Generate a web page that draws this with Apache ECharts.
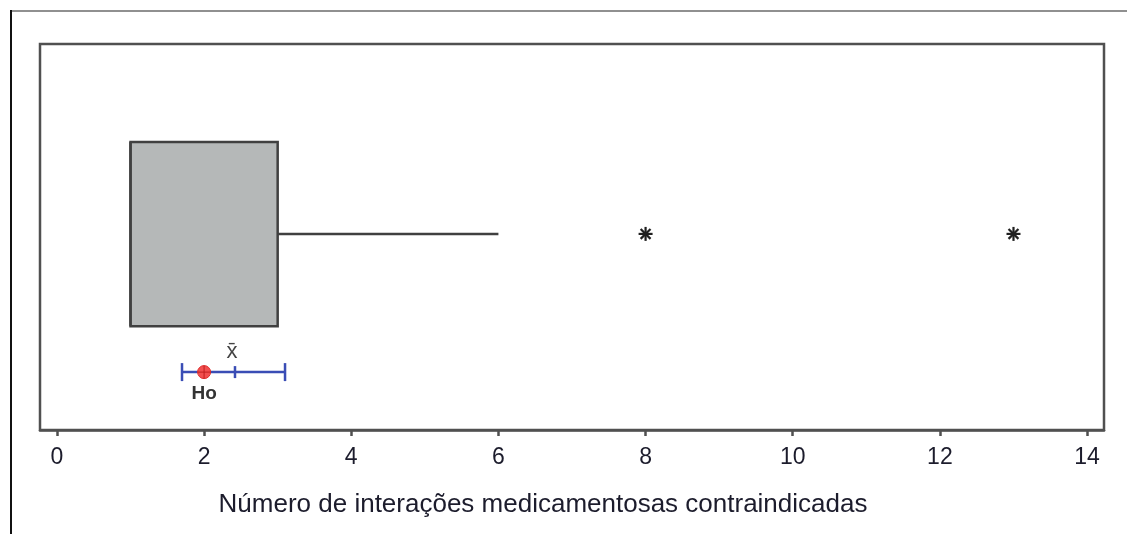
<!DOCTYPE html>
<html>
<head>
<meta charset="utf-8">
<script src="https://cdn.jsdelivr.net/npm/echarts@6/dist/echarts.min.js"></script>
<style>
html,body{margin:0;padding:0;background:#fff;}
#chart{width:1127px;height:534px;}
</style>
</head>
<body>
<div id="chart"></div>
<script>
// ---- data ----
const xTicks = [0, 2, 4, 6, 8, 10, 12, 14];
const boxStats = [1, 1, 1, 3, 6];        // whiskerLow, Q1, median, Q3, whiskerHigh
const outliers = [8, 13];
const meanCI = [1.70, 2.42, 3.10];       // lower, mean, upper
const h0 = [2];
const axisTitle = 'Número de interações medicamentosas contraindicadas';

// ---- layout constants (y in axis units 0..1) ----
const BOX_TOP = 0.746, BOX_BOT = 0.269, MID = 0.508, CI_Y = 0.150;
const FONT = '"Liberation Sans", Arial, sans-serif';
const DARK = '#404040';

const chart = echarts.init(document.getElementById('chart'), null, {renderer: 'canvas'});

function renderBox(params, api) {
  const lo = api.value(0), q1 = api.value(1), med = api.value(2), q3 = api.value(3), hi = api.value(4);
  const tl = api.coord([q1, BOX_TOP]);
  const br = api.coord([q3, BOX_BOT]);
  const m = api.coord([q3, MID]);
  const mh = api.coord([hi, MID]);
  const ml = api.coord([lo, MID]);
  const q1m = api.coord([q1, MID]);
  const mt = api.coord([med, BOX_TOP]);
  const mb = api.coord([med, BOX_BOT]);
  return {
    type: 'group',
    children: [
      {type: 'line', shape: {x1: ml[0], y1: ml[1], x2: q1m[0], y2: q1m[1]}, style: {stroke: DARK, lineWidth: 2}},
      {type: 'line', shape: {x1: m[0], y1: m[1], x2: mh[0], y2: mh[1]}, style: {stroke: DARK, lineWidth: 2.5}},
      {type: 'rect', shape: {x: tl[0], y: tl[1], width: br[0] - tl[0], height: br[1] - tl[1]},
        style: {fill: '#b5b8b8', stroke: DARK, lineWidth: 2.5}},
      {type: 'line', shape: {x1: mt[0], y1: mt[1], x2: mb[0], y2: mb[1]}, style: {stroke: DARK, lineWidth: 2.5}}
    ]
  };
}

function renderStar(params, api) {
  const c = api.coord([api.value(0), MID]);
  const r = 7;
  const children = [];
  for (let k = 0; k < 4; k++) {
    const a = k * Math.PI / 4;
    children.push({type: 'line', shape: {x1: c[0] - r * Math.cos(a), y1: c[1] - r * Math.sin(a), x2: c[0] + r * Math.cos(a), y2: c[1] + r * Math.sin(a)},
      style: {stroke: '#202020', lineWidth: 2.2}});
  }
  return {type: 'group', children};
}

function renderCI(params, api) {
  const lo = api.coord([api.value(0), CI_Y]);
  const mn = api.coord([api.value(1), CI_Y]);
  const hi = api.coord([api.value(2), CI_Y]);
  const blue = '#3a4db5';
  return {
    type: 'group',
    children: [
      {type: 'line', shape: {x1: lo[0], y1: lo[1], x2: hi[0], y2: hi[1]}, style: {stroke: blue, lineWidth: 2.5}},
      {type: 'line', shape: {x1: lo[0], y1: lo[1] - 9, x2: lo[0], y2: lo[1] + 9}, style: {stroke: blue, lineWidth: 2.5}},
      {type: 'line', shape: {x1: hi[0], y1: hi[1] - 9, x2: hi[0], y2: hi[1] + 9}, style: {stroke: blue, lineWidth: 2.5}},
      {type: 'line', shape: {x1: mn[0], y1: mn[1] - 6, x2: mn[0], y2: mn[1] + 6}, style: {stroke: blue, lineWidth: 2.5}},
      {type: 'text', x: mn[0] - 3, y: mn[1] - 20, style: {text: 'x\u0304', font: '22px ' + FONT, fill: '#444', align: 'center', verticalAlign: 'middle'}}
    ]
  };
}

function renderH0(params, api) {
  const c = api.coord([api.value(0), CI_Y]);
  const r = 6.5;
  return {
    type: 'group',
    children: [
      {type: 'circle', shape: {cx: c[0], cy: c[1], r: r}, style: {fill: '#f25050', stroke: '#e03030', lineWidth: 1}},
      {type: 'line', shape: {x1: c[0] - r, y1: c[1], x2: c[0] + r, y2: c[1]}, style: {stroke: '#c02020', lineWidth: 1}},
      {type: 'line', shape: {x1: c[0], y1: c[1] - r, x2: c[0], y2: c[1] + r}, style: {stroke: '#c02020', lineWidth: 1}},
      {type: 'text', x: c[0], y: c[1] + 22, style: {text: 'Ho', font: 'bold 19px ' + FONT, fill: '#333', align: 'center', verticalAlign: 'middle'}}
    ]
  };
}

chart.setOption({
  animation: false,
  backgroundColor: '#fff',
  graphic: [
    {type: 'line', shape: {x1: 10, y1: 11, x2: 1127, y2: 11}, style: {stroke: '#909090', lineWidth: 2}},
    {type: 'line', shape: {x1: 11, y1: 10, x2: 11, y2: 534}, style: {stroke: '#111', lineWidth: 2}}
  ],
  grid: {left: 40, right: 23, top: 44, bottom: 104, show: true, borderColor: '#505050', borderWidth: 2.5, backgroundColor: '#fff'},
  xAxis: {
    type: 'value', min: -0.23, max: 14.23,
    splitLine: {show: false},
    axisLine: {show: true, lineStyle: {color: '#505050', width: 2.5}},
    axisTick: {show: true, customValues: xTicks, length: 6, inside: false, lineStyle: {color: '#505050', width: 2.5}},
    axisLabel: {customValues: xTicks, fontSize: 23, fontFamily: FONT, color: '#1c1c2c', margin: 16},
    name: axisTitle, nameLocation: 'middle', nameGap: 62,
    nameTextStyle: {fontSize: 26, fontFamily: FONT, color: '#1c1c2c', padding: [0, 58, 0, 0]}
  },
  yAxis: {type: 'value', min: 0, max: 1, show: false, splitLine: {show: false}},
  series: [
    {type: 'custom', renderItem: renderBox, data: [boxStats], clip: false},
    {type: 'custom', renderItem: renderStar, data: outliers.map(v => [v]), clip: false},
    {type: 'custom', renderItem: renderCI, data: [meanCI], clip: false},
    {type: 'custom', renderItem: renderH0, data: h0.map(v => [v]), clip: false}
  ]
});
</script>
</body>
</html>
